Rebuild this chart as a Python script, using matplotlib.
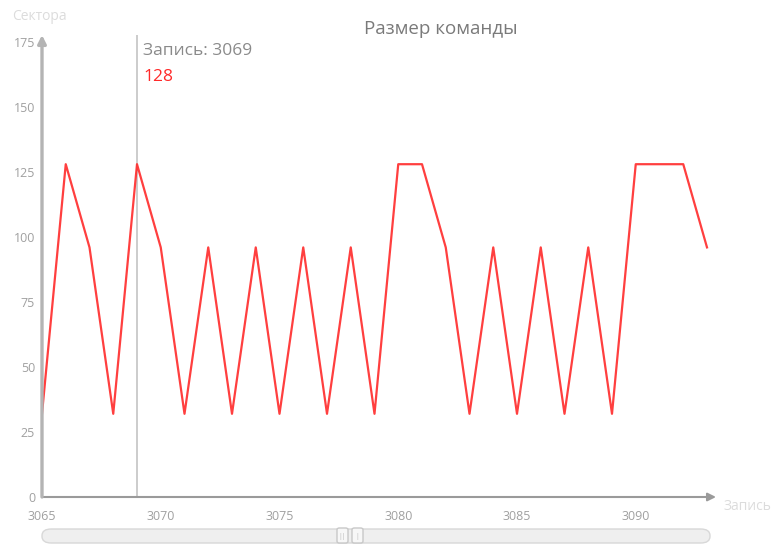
import matplotlib
matplotlib.use("Agg")
import matplotlib.pyplot as plt
from matplotlib.patches import FancyBboxPatch

plt.rcParams['font.family'] = ['Open Sans', 'DejaVu Sans']

# Command size per record
records = list(range(3065, 3094))
sizes = [32, 128, 96, 32, 128, 96, 32, 96, 32, 96, 32, 96, 32, 96, 32,
         128, 128, 96, 32, 96, 32, 96, 32, 96, 32, 128, 128, 128, 96]
y_ticks = [0, 25, 50, 75, 100, 125, 150, 175]
x_ticks = [3065, 3070, 3075, 3080, 3085, 3090]
selected_record = 3069
selected_value = 128

W, H = 775, 544
fig = plt.figure(figsize=(W / 100, H / 100), dpi=100)
ax = fig.add_axes([42 / W, 1 - 497 / H, (716 - 42) / W, (497 - 35) / H])

x0 = 3065
x1 = 3065 + (716 - 42) / 23.75
y1 = 175 + (42 - 35) / 2.6
ax.set_xlim(x0, x1)
ax.set_ylim(0, y1)

for s in ax.spines.values():
    s.set_visible(False)

ax.plot(records, sizes, color='#ff2a2a', lw=1.6, alpha=0.9, zorder=3)

# crosshair at the selected record
ax.axvline(selected_record, color='#c4c4c4', lw=1.2, zorder=2)

# axis lines with arrowheads
ax.annotate('', xy=(1.0, 0), xytext=(0, 0), xycoords='axes fraction',
            arrowprops=dict(arrowstyle='-|>', color='#9a9a9a', lw=1.5,
                            mutation_scale=12, shrinkA=0, shrinkB=0))
ax.annotate('', xy=(0, 1.0), xytext=(0, 0), xycoords='axes fraction',
            arrowprops=dict(arrowstyle='-|>', color='#b4b4b4', lw=2.4,
                            mutation_scale=12, shrinkA=0, shrinkB=0))

ax.set_xticks(x_ticks)
ax.set_xticklabels([str(t) for t in x_ticks])
ax.set_yticks(y_ticks)
ax.set_yticklabels([str(t) for t in y_ticks])
ax.tick_params(axis='both', length=0, colors='#a0a0a0', labelsize=9)
ax.tick_params(axis='x', pad=9)
ax.tick_params(axis='y', pad=5)

# titles and labels
fig.text(441 / W, 1 - 29 / H, 'Размер команды', ha='center', va='center',
         fontsize=13.5, color='#7a7a7a')
fig.text(12 / W, 1 - 17 / H, 'Сектора', ha='left', va='center',
         fontsize=10, color='#dcdcdc')
fig.text(724 / W, 1 - 507 / H, 'Запись', ha='left', va='center',
         fontsize=10, color='#dcdcdc')

# tooltip for the selected record
fig.text(143 / W, 1 - 51 / H, f'Запись: {selected_record}', ha='left',
         va='center', fontsize=12.5, color='#8a8a8a')
fig.text(143 / W, 1 - 77 / H, str(selected_value), ha='left',
         va='center', fontsize=12.5, color='#ff2a2a')

# scrollbar beneath the chart
fig.patches.append(FancyBboxPatch((42 / W, 1 - 543 / H), (710 - 42) / W, 14 / H,
                                  boxstyle='round,pad=0,rounding_size=0.012',
                                  transform=fig.transFigure, facecolor='#efefef',
                                  edgecolor='#d8d8d8', lw=1))
for hx in (337, 352):
    fig.patches.append(FancyBboxPatch((hx / W, 1 - 543 / H), 11 / W, 15 / H,
                                      boxstyle='round,pad=0,rounding_size=0.003',
                                      transform=fig.transFigure, facecolor='#f7f7f7',
                                      edgecolor='#c8c8c8', lw=1))
fig.text(342.5 / W, 1 - 536 / H, '||', ha='center', va='center', fontsize=5,
         color='#bbbbbb')
fig.text(357.5 / W, 1 - 536 / H, '|', ha='center', va='center', fontsize=5,
         color='#bbbbbb')

fig.savefig('out.png', dpi=100)
